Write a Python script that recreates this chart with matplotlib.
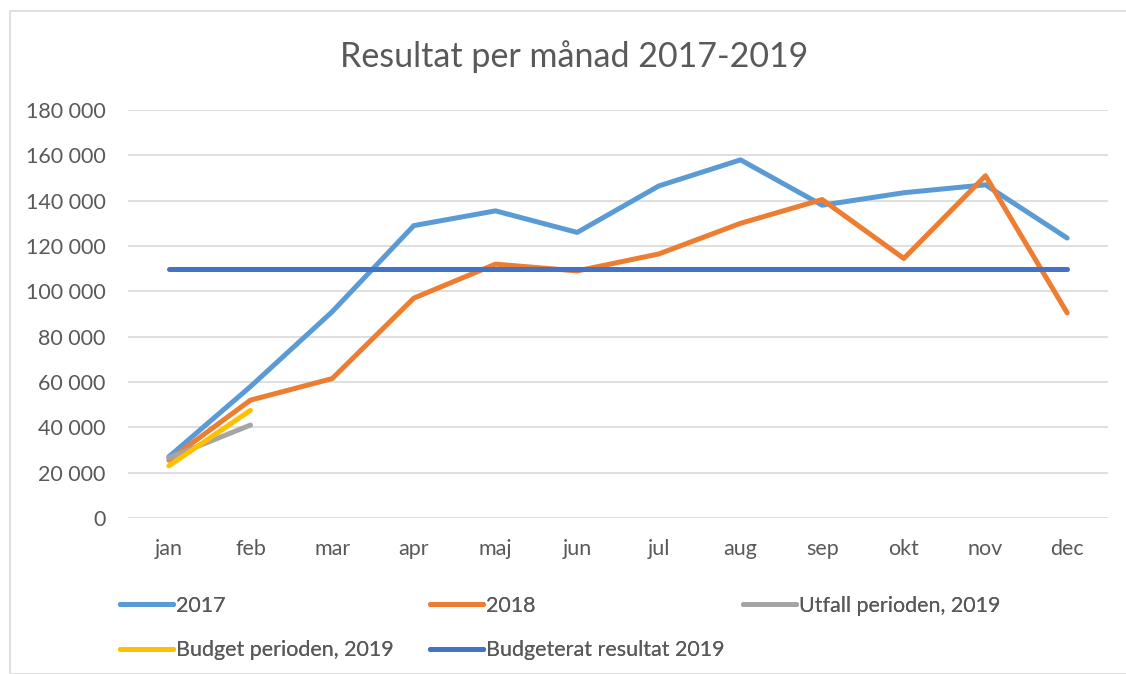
import matplotlib.pyplot as plt
from matplotlib.patches import Rectangle

plt.rcParams['font.family'] = ['Lato', 'DejaVu Sans']

months = ['jan', 'feb', 'mar', 'apr', 'maj', 'jun', 'jul', 'aug', 'sep', 'okt', 'nov', 'dec']
res_2017 = [27000, 58000, 91000, 129000, 135500, 126000, 146500, 158000, 138000, 143500, 147000, 123500]
res_2018 = [25500, 52000, 61500, 97000, 112000, 109000, 116500, 130000, 140500, 114500, 151000, 90500]
utfall_2019 = [26500, 41000]
budget_per_2019 = [23000, 47500]
budget_res_2019 = 110000

fig = plt.figure(figsize=(11.26, 6.74), dpi=100)
fig.patches.append(Rectangle((10 / 1126, 0), 1.2, (674 - 11) / 674, transform=fig.transFigure,
                             fill=False, ec='#D9D9D9', lw=1.2))
ax = fig.add_axes([128 / 1126, (674 - 518) / 674, 980 / 1126, 408 / 674])

x = list(range(len(months)))
lw = 3.6
ax.plot(x, res_2017, color='#5B9BD5', lw=lw, label='2017', solid_capstyle='round', zorder=3)
ax.plot(x, res_2018, color='#ED7D31', lw=lw, label='2018', solid_capstyle='round', zorder=3)
ax.plot(x[:2], utfall_2019, color='#A5A5A5', lw=lw, label='Utfall perioden, 2019',
        solid_capstyle='round', zorder=3)
ax.plot(x[:2], budget_per_2019, color='#FFC000', lw=lw, label='Budget perioden, 2019',
        solid_capstyle='round', zorder=4)
ax.plot(x, [budget_res_2019] * len(x), color='#4472C4', lw=lw, label='Budgeterat resultat 2019',
        solid_capstyle='round', zorder=3)

ax.set_xlim(-0.5, 11.5)
ax.set_ylim(0, 180000)
ax.set_yticks(range(0, 180001, 20000))
ax.set_yticklabels([f'{v:,}'.replace(',', ' ') for v in range(0, 180001, 20000)])
ax.set_xticks(x)
ax.set_xticklabels(months)
ax.grid(axis='y', color='#D9D9D9', lw=1.2)
ax.set_axisbelow(True)
for s in ax.spines.values():
    s.set_visible(False)
ax.tick_params(length=0, labelsize=15.5, colors='#595959')
ax.tick_params(axis='y', pad=16)
ax.tick_params(axis='x', pad=15)

fig.text(0.51, 1 - 57 / 674, 'Resultat per månad 2017-2019', ha='center', va='center',
         fontsize=24.5, color='#595959')

# legend: three columns, one legend each (Excel-like fixed column widths)
handles, labels = ax.get_legend_handles_labels()
columns = [([0, 3], 111), ([1, 4], 421), ([2], 734)]
for idx, xpix in columns:
    leg = fig.legend([handles[i] for i in idx], [labels[i] for i in idx],
                     loc='upper left', bbox_to_anchor=(xpix / 1126, 1 - 587 / 674),
                     frameon=False, fontsize=15.5, handlelength=2.5, handletextpad=0.1,
                     labelspacing=1.15, labelcolor='#595959', borderaxespad=0)
    fig.add_artist(leg)

fig.savefig('out.png', dpi=100)
